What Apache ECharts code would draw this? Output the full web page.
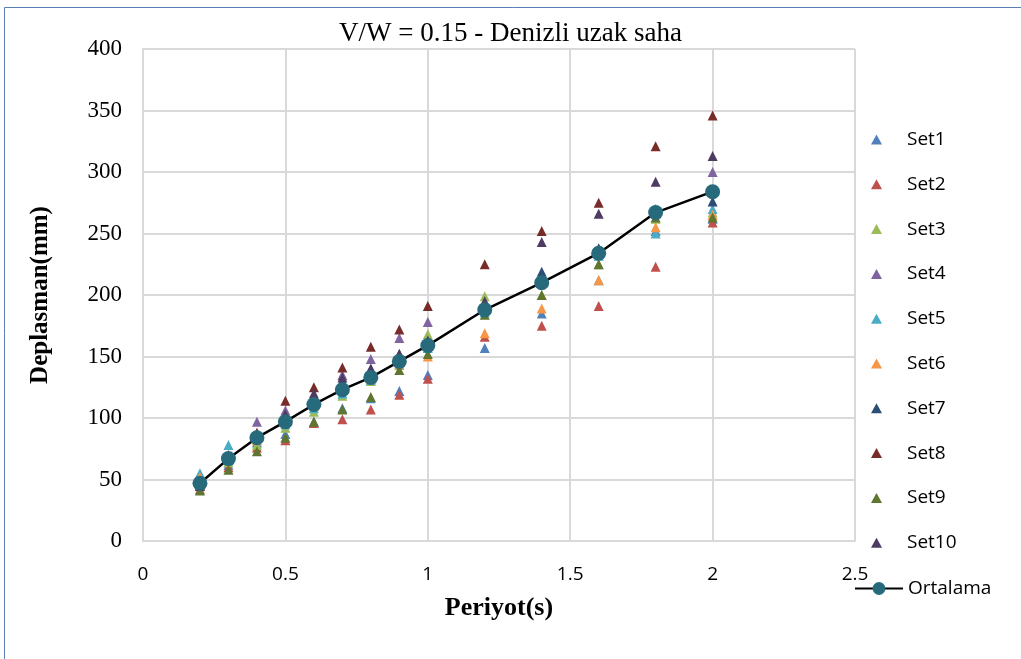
<!DOCTYPE html>
<html>
<head>
<meta charset="utf-8">
<script src="https://cdn.jsdelivr.net/npm/echarts@6/dist/echarts.min.js"></script>
<style>
  html, body { margin: 0; padding: 0; background: #fff; }
  #chart { width: 1021px; height: 659px; }
</style>
</head>
<body>
<div id="chart"></div>
<script>
// Periods (s) at which each set was evaluated
const periods = [0.2, 0.3, 0.4, 0.5, 0.6, 0.7, 0.8, 0.9, 1.0, 1.2, 1.4, 1.6, 1.8, 2.0];

// Displacement (mm) per record set
const set1  = [50, 62, 80, 87, 97, 108, 116, 122, 135, 157, 185, 212, 252, 262];
const set2  = [42, 60, 76, 82, 96, 99, 107, 119, 132, 166, 175, 191, 223, 259];
const set3  = [46, 64, 78, 92, 105, 118, 130, 143, 168, 199, 200, 225, 262, 267];
const set4  = [48, 68, 97, 106, 118, 135, 148, 165, 178, 192, 215, 235, 270, 300];
const set5  = [55, 78, 84, 95, 108, 120, 131, 148, 157, 186, 212, 232, 250, 270];
const set6  = [52, 68, 82, 100, 110, 126, 132, 144, 150, 169, 189, 212, 255, 265];
const set7  = [49, 69, 86, 100, 115, 130, 140, 152, 162, 190, 219, 238, 268, 276];
const set8  = [45, 70, 88, 114, 125, 141, 158, 172, 191, 225, 252, 275, 321, 346];
const set9  = [41, 58, 73, 84, 97, 107, 117, 139, 152, 184, 200, 225, 263, 263];
const set10 = [45, 66, 85, 103, 120, 133, 140, 152, 163, 195, 243, 266, 292, 313];
const ortalama = [47, 67, 84, 97, 111, 123, 133, 146, 159, 188, 210, 234, 267, 284];

const setNames = ['Set1', 'Set2', 'Set3', 'Set4', 'Set5', 'Set6', 'Set7', 'Set8', 'Set9', 'Set10'];
const setValues = [set1, set2, set3, set4, set5, set6, set7, set8, set9, set10];
const setColors = ['#4F81BD', '#C0504D', '#9BBB59', '#8064A2', '#4BACC6',
                   '#F79646', '#2C4D75', '#772C2A', '#5F7530', '#4D3B62'];

const xTicks = [0, 0.5, 1, 1.5, 2, 2.5];
const yTicks = [0, 50, 100, 150, 200, 250, 300, 350, 400];

const pair = vals => periods.map((p, i) => [p, vals[i]]);

const series = setNames.map((name, k) => ({
  name: name,
  type: 'scatter',
  symbol: 'triangle',
  symbolSize: 10,
  itemStyle: { color: setColors[k], opacity: 1 },
  data: pair(setValues[k]),
  z: 3
}));

series.push({
  name: 'Ortalama',
  type: 'line',
  symbol: 'circle',
  symbolSize: 15,
  showSymbol: true,
  lineStyle: { color: '#000', width: 2.5 },
  itemStyle: { color: '#276A7C' },
  data: pair(ortalama),
  z: 4
});

const serif = '"Liberation Serif", "Times New Roman", serif';
const sans = '"Open Sans", "Liberation Sans", sans-serif';

const chart = echarts.init(document.getElementById('chart'));
chart.setOption({
  animation: false,
  backgroundColor: '#fff',
  title: {
    text: 'V/W = 0.15 - Denizli uzak saha',
    left: 'center',
    top: 15,
    textStyle: { fontFamily: serif, fontSize: 27, fontWeight: 'normal', color: '#000' }
  },
  grid: { left: 143, right: 166, top: 49, bottom: 118 },
  xAxis: {
    type: 'value',
    min: xTicks[0],
    max: xTicks[xTicks.length - 1],
    interval: 0.5,
    name: 'Periyot(s)',
    nameLocation: 'middle',
    nameGap: 54,
    nameTextStyle: { fontFamily: serif, fontSize: 26, fontWeight: 'bold', color: '#000' },
    axisLine: { show: true, lineStyle: { color: '#d9d9d9', width: 2 } },
    axisTick: { show: false },
    axisLabel: { fontFamily: sans, fontSize: 19, color: '#000', margin: 24,
                 formatter: v => String(v) },
    splitLine: { show: true, lineStyle: { color: '#d9d9d9', width: 2 } }
  },
  yAxis: {
    type: 'value',
    min: yTicks[0],
    max: yTicks[yTicks.length - 1],
    interval: 50,
    name: 'Deplasman(mm)',
    nameLocation: 'middle',
    nameGap: 90,
    nameRotate: 90,
    nameTextStyle: { fontFamily: serif, fontSize: 25, fontWeight: 'bold', color: '#000' },
    axisLine: { show: true, lineStyle: { color: '#d9d9d9', width: 2 } },
    axisTick: { show: false },
    axisLabel: { fontFamily: serif, fontSize: 23, color: '#000', margin: 21 },
    splitLine: { show: true, lineStyle: { color: '#d9d9d9', width: 2 } }
  },
  legend: [
    {
      data: setNames.map(n => ({ name: n, icon: 'triangle' })),
      orient: 'vertical',
      left: 866,
      top: 125,
      itemWidth: 11,
      itemHeight: 10,
      itemGap: 25.8,
      textStyle: { fontFamily: sans, fontSize: 19, color: '#000', padding: [0, 0, 0, 20] }
    },
    {
      data: ['Ortalama'],
      orient: 'vertical',
      left: 849,
      top: 574,
      itemWidth: 48,
      itemHeight: 16,
      textStyle: { fontFamily: sans, fontSize: 19, color: '#000', padding: [0, 0, 0, 0] }
    }
  ],
  graphic: [{
    type: 'rect',
    shape: { x: 4.5, y: 7.5, width: 1030, height: 660 },
    style: { fill: null, stroke: '#5A7FB5', lineWidth: 1 },
    silent: true
  }],
  series: series
});
</script>
</body>
</html>
